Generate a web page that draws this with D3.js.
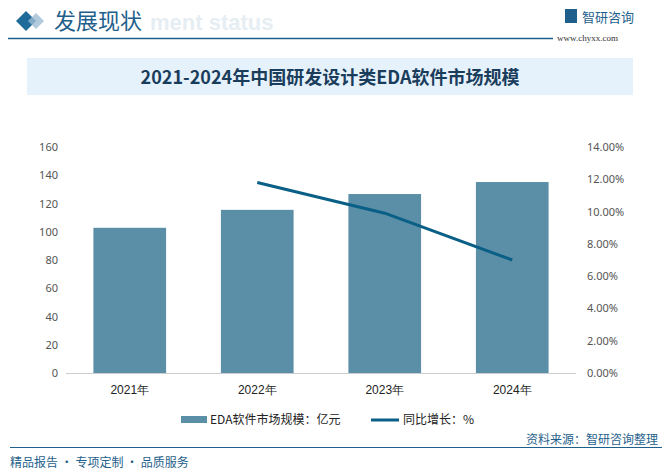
<!DOCTYPE html><html><head><meta charset="utf-8"><script src="https://cdn.jsdelivr.net/npm/d3@7"></script>
<style>body{margin:0;background:#fff}svg{font-family:"Noto Sans CJK SC","Noto Sans",sans-serif}</style></head><body><svg width="662" height="476"></svg>
<script>
const categories=["2021年","2022年","2023年","2024年"];
const sizeValues=[102.8,115.5,126.7,135.2];
const growthValues=[null,11.8,9.9,7.0];
const leftTicks=[0,20,40,60,80,100,120,140,160];
const rightTicks=[0,2,4,6,8,10,12,14];
const svg=d3.select("svg");
// header
svg.append("text").attr("x",150).attr("y",30).attr("font-size",22).attr("font-weight","bold").attr("fill","#e6eef3").attr("font-family","Liberation Sans").text("ment status");
svg.append("path").attr("d","M26,11 L36,21 L26,31 L16,21Z").attr("fill","#1f6b99");
svg.append("path").attr("d","M36,13 L44,21 L36,29 L28,21Z").attr("fill","#9dbdd3").attr("opacity",0.8);
svg.append("text").attr("x",54).attr("y",29).attr("font-size",22).attr("fill","#1f5f8b").text("发展现状");
svg.append("line").attr("x1",8).attr("x2",553).attr("y1",38.5).attr("y2",38.5).attr("stroke","#1f5f8b").attr("stroke-width",1.5);
svg.append("rect").attr("x",565).attr("y",9).attr("width",12).attr("height",14).attr("fill","#1f5f8b");
svg.append("text").attr("x",582).attr("y",22).attr("font-size",13).attr("fill","#1f5f8b").text("智研咨询");
svg.append("text").attr("x",557).attr("y",41).attr("font-size",9).attr("fill","#333").attr("font-family","Liberation Serif").text("www.chyxx.com");
svg.append("rect").attr("x",27).attr("y",58).attr("width",606).attr("height",37).attr("fill","#e6f2fb");
svg.append("text").attr("x",330).attr("y",84).attr("text-anchor","middle").attr("font-size",18).attr("font-weight","bold").attr("fill","#1a3d5c").text("2021-2024年中国研发设计类EDA软件市场规模");
// chart
const x=d3.scaleBand().domain(categories).range([66,576]).paddingInner(0.43).paddingOuter(0.215);
const y=d3.scaleLinear().domain([0,160]).range([373,147]);
const y2=d3.scaleLinear().domain([0,14]).range([373,147]);
svg.append("g").selectAll("rect").data(sizeValues).join("rect").attr("x",(d,i)=>x(categories[i])).attr("width",x.bandwidth()).attr("y",d=>y(d)).attr("height",d=>373-y(d)).attr("fill","#5b8fa8");
svg.append("line").attr("x1",66).attr("x2",576).attr("y1",373.5).attr("y2",373.5).attr("stroke","#ccc");
const la=svg.append("g").attr("transform","translate(58,0)").call(d3.axisLeft(y).tickValues(leftTicks).tickSize(0).tickPadding(0));
la.select(".domain").remove();la.selectAll("text").attr("font-size",11).attr("fill","#555").attr("font-family","Noto Sans");
const ra=svg.append("g").attr("transform","translate(587,0)").call(d3.axisRight(y2).tickValues(rightTicks).tickSize(0).tickPadding(0).tickFormat(d=>d.toFixed(2)+"%"));
ra.select(".domain").remove();ra.selectAll("text").attr("font-size",11).attr("fill","#555").attr("font-family","Noto Sans");
const xa=svg.append("g").attr("transform","translate(0,380)").call(d3.axisBottom(x).tickSize(0).tickPadding(5));
xa.select(".domain").remove();xa.selectAll("text").attr("font-size",12).attr("fill","#222");
const pts=growthValues.map((v,i)=>({v,c:categories[i]})).filter(d=>d.v!=null);
svg.append("path").datum(pts).attr("d",d3.line().x(d=>x(d.c)+x.bandwidth()/2).y(d=>y2(d.v))).attr("fill","none").attr("stroke","#0a5f86").attr("stroke-width",3);
// legend
svg.append("rect").attr("x",181).attr("y",416).attr("width",26).attr("height",7).attr("fill","#5b8fa8");
svg.append("text").attr("x",210).attr("y",424).attr("font-size",12).attr("fill","#222").text("EDA软件市场规模：亿元");
svg.append("line").attr("x1",371).attr("x2",399).attr("y1",420).attr("y2",420).attr("stroke","#0a5f86").attr("stroke-width",3);
svg.append("text").attr("x",403).attr("y",424).attr("font-size",12).attr("fill","#222").text("同比增长：%");
// footer
svg.append("line").attr("x1",10).attr("x2",662).attr("y1",447.5).attr("y2",447.5).attr("stroke","#1f5f8b").attr("stroke-width",1.2);
svg.append("text").attr("x",10).attr("y",467).attr("font-size",12).attr("fill","#1f5f8b").text("精品报告 · 专项定制 · 品质服务");
svg.append("text").attr("x",658).attr("y",444).attr("text-anchor","end").attr("font-size",12).attr("fill","#1f5f8b").text("资料来源：智研咨询整理");
</script></body></html>
